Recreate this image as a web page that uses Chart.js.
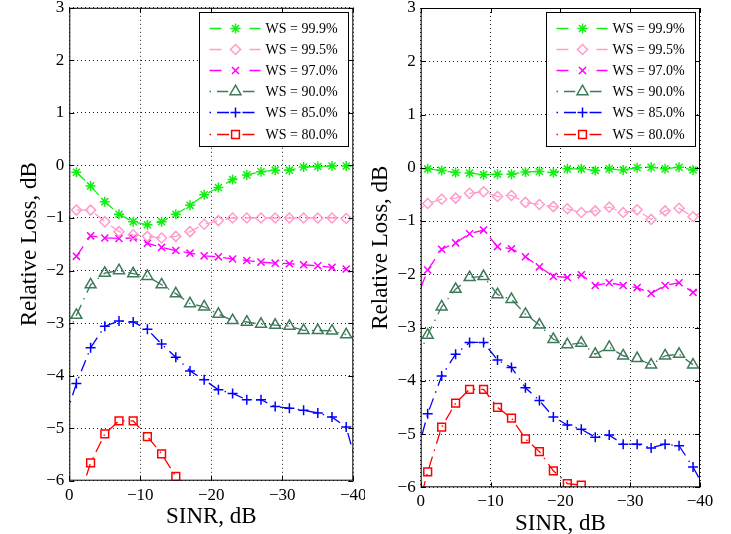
<!DOCTYPE html>
<html>
<head>
<meta charset="utf-8">
<script src="https://cdn.jsdelivr.net/npm/chart.js@4.4.1/dist/chart.umd.min.js"></script>
<style>
  html, body { margin: 0; padding: 0; background: #fff; }
  #wrap { position: relative; width: 731px; height: 534px; overflow: hidden; }
  canvas { position: absolute; top: 0; }
  #left { left: 0; }
  #right { left: 365px; }
</style>
</head>
<body>
<div id="wrap">
  <canvas id="left" width="365" height="534"></canvas>
  <canvas id="right" width="366" height="534"></canvas>
</div>
<script>
"use strict";

// SINR points (dB); the first and last sit just outside the axes and get clipped
const sinr = [1, -1, -3, -5, -7, -9, -11, -13, -15, -17, -19, -21, -23, -25, -27, -29, -31, -33, -35, -37, -39, -41];

const wsLabels = ['WS = 99.9%', 'WS = 99.5%', 'WS = 97.0%', 'WS = 90.0%', 'WS = 85.0%', 'WS = 80.0%'];

const xTicks = [0, -10, -20, -30, -40];
const yTicks = [3, 2, 1, 0, -1, -2, -3, -4, -5, -6];

// left panel, relative loss in dB
const left999 = [null, -0.13, -0.39, -0.69, -0.93, -1.07, -1.13, -1.07, -0.93, -0.76, -0.56, -0.42, -0.27, -0.18, -0.12, -0.09, -0.09, -0.03, -0.02, -0.01, -0.01, null];
const left995 = [null, -0.85, -0.85, -1.07, -1.26, -1.32, -1.35, -1.38, -1.35, -1.26, -1.12, -1.05, -1.0, -1.0, -1.0, -1.0, -1.0, -1.0, -1.0, -1.0, -1.01, null];
const left970 = [null, -1.73, -1.34, -1.38, -1.39, -1.38, -1.48, -1.56, -1.62, -1.67, -1.72, -1.74, -1.78, -1.81, -1.84, -1.86, -1.87, -1.89, -1.91, -1.94, -1.97, null];
const left900 = [-3.43, -2.85, -2.27, -2.05, -2.0, -2.06, -2.11, -2.27, -2.44, -2.63, -2.69, -2.83, -2.95, -2.98, -3.02, -3.04, -3.06, -3.14, -3.14, -3.15, -3.22, null];
const left850 = [-4.97, -4.15, -3.47, -3.06, -2.96, -2.98, -3.12, -3.40, -3.65, -3.91, -4.08, -4.27, -4.34, -4.46, -4.46, -4.59, -4.62, -4.66, -4.71, -4.79, -4.98, -5.96];
const left800 = [null, -6.5, -5.66, -5.11, -4.86, -4.86, -5.16, -5.49, -5.92, null, null, null, null, null, null, null, null, null, null, null, null, null];

// right panel, relative loss in dB
const right999 = [null, -0.02, -0.05, -0.09, -0.10, -0.13, -0.12, -0.12, -0.08, -0.07, -0.09, -0.02, -0.02, -0.05, -0.02, -0.04, 0.0, 0.01, -0.02, 0.01, -0.04, null];
const right995 = [-0.85, -0.67, -0.59, -0.57, -0.48, -0.45, -0.54, -0.52, -0.65, -0.69, -0.73, -0.77, -0.84, -0.81, -0.74, -0.84, -0.79, -0.97, -0.81, -0.76, -0.92, -0.77];
const right970 = [-2.6, -1.92, -1.53, -1.41, -1.24, -1.17, -1.48, -1.52, -1.67, -1.86, -2.04, -2.06, -2.01, -2.21, -2.16, -2.21, -2.25, -2.36, -2.21, -2.16, -2.34, -2.18];
const right900 = [-3.75, -3.14, -2.61, -2.28, -2.06, -2.04, -2.38, -2.47, -2.75, -2.95, -3.22, -3.32, -3.29, -3.50, -3.37, -3.53, -3.58, -3.70, -3.53, -3.50, -3.70, null];
const right850 = [-5.6, -4.62, -3.91, -3.50, -3.28, -3.28, -3.61, -3.75, -4.13, -4.37, -4.68, -4.83, -4.91, -5.06, -5.02, -5.19, -5.19, -5.26, -5.19, -5.22, -5.62, -6.1];
const right800 = [-6.7, -5.71, -4.87, -4.42, -4.16, -4.16, -4.50, -4.70, -5.09, -5.33, -5.69, -5.93, -5.96, null, null, null, null, null, null, null, null, null];

const SERIF = '"Liberation Serif", "Times New Roman", serif';
const DASH = [12, 8];
const DASHDOT = [1.5, 6, 12, 6];

// line look for each WS curve, same order as wsLabels
const looks = [
  { color: '#10f010', marker: 'star',     r: 5,   dash: DASH },
  { color: '#ff9ccc', marker: 'rectRot',  r: 5,   dash: DASH },
  { color: '#ff00ff', marker: 'crossRot', r: 5,   dash: DASH },
  { color: '#3c7a5a', marker: 'triangle', r: 6.3, dash: DASHDOT },
  { color: '#0000ff', marker: 'cross',    r: 5,   dash: DASHDOT },
  { color: '#ff0000', marker: 'rect',     r: 5.5, dash: DASHDOT }
];

function minus(v) {
  return String(v).replace('-', '\u2212');
}

function makeSets(seriesList) {
  return seriesList.map((vals, i) => {
    const lk = looks[i];
    return {
      label: wsLabels[i],
      data: vals.map((v, j) => ({ x: sinr[j], y: v })),
      borderColor: lk.color,
      borderWidth: 1.3,
      borderDash: lk.dash,
      pointStyle: lk.marker,
      pointRadius: lk.r,
      pointBorderColor: lk.color,
      pointBackgroundColor: 'rgba(0,0,0,0)',
      pointBorderWidth: 1.5,
      tension: 0,
      spanGaps: false,
      clip: 0
    };
  });
}

// box around the plot plus inward tick marks on all four sides
const framePlugin = {
  id: 'frame',
  afterDatasetsDraw(chart) {
    const ctx = chart.ctx;
    const a = chart.chartArea;
    const xs = chart.scales.x, ys = chart.scales.y;
    ctx.save();
    ctx.strokeStyle = '#000';
    ctx.lineWidth = 1;
    ctx.setLineDash([]);
    ctx.strokeRect(a.left + 0.5, a.top + 0.5, a.right - a.left - 1, a.bottom - a.top - 1);
    ctx.beginPath();
    xTicks.forEach(v => {
      const px = Math.round(xs.getPixelForValue(v)) + 0.5;
      ctx.moveTo(px, a.bottom); ctx.lineTo(px, a.bottom - 5);
      ctx.moveTo(px, a.top); ctx.lineTo(px, a.top + 5);
    });
    yTicks.forEach(v => {
      const py = Math.round(ys.getPixelForValue(v)) + 0.5;
      ctx.moveTo(a.left, py); ctx.lineTo(a.left + 5, py);
      ctx.moveTo(a.right, py); ctx.lineTo(a.right - 5, py);
    });
    ctx.stroke();
    ctx.restore();
  }
};

// legend box in the upper right corner of the axes
const boxLegend = {
  id: 'boxLegend',
  afterDraw(chart) {
    const ctx = chart.ctx;
    const a = chart.chartArea;
    const w = 149, h = 134;
    const bx = Math.round(a.right - 5 - w) + 0.5;
    const by = Math.round(a.top + 4) + 0.5;
    ctx.save();
    ctx.fillStyle = '#fff';
    ctx.fillRect(bx, by, w, h);
    ctx.strokeStyle = '#000';
    ctx.lineWidth = 1;
    ctx.setLineDash([]);
    ctx.strokeRect(bx, by, w, h);

    ctx.font = '14px ' + SERIF;
    ctx.textBaseline = 'middle';
    ctx.textAlign = 'left';
    chart.data.datasets.forEach((ds, i) => {
      const lk = looks[i];
      const y = Math.round(by + 15 + i * 21.2) + 0.5;
      ctx.strokeStyle = lk.color;
      ctx.lineWidth = 1.4;
      ctx.setLineDash(lk.dash);
      ctx.beginPath();
      ctx.moveTo(bx + 10, y);
      ctx.lineTo(bx + 61, y);
      ctx.stroke();
      ctx.setLineDash([]);
      ctx.fillStyle = '#fff';
      ctx.beginPath();
      ctx.arc(bx + 36, y, lk.r + 1, 0, Math.PI * 2);
      ctx.fill();
      ctx.fillStyle = 'rgba(0,0,0,0)';
      ctx.lineWidth = 1.5;
      Chart.helpers.drawPoint(ctx, { pointStyle: lk.marker, radius: lk.r, rotation: 0, borderWidth: 1.5 }, bx + 36, y);
      ctx.fillStyle = '#000';
      ctx.fillText(ds.label, bx + 66, y + 0.5);
    });
    ctx.restore();
  }
};

function drawPanel(id, seriesList, lay) {
  new Chart(document.getElementById(id), {
    type: 'line',
    data: { datasets: makeSets(seriesList) },
    plugins: [framePlugin, boxLegend],
    options: {
      responsive: false,
      animation: false,
      events: [],
      layout: { padding: { left: 0, right: lay.padRight, top: lay.padTop, bottom: 0 } },
      plugins: { legend: { display: false }, tooltip: { enabled: false } },
      scales: {
        x: {
          type: 'linear',
          min: -40,
          max: 0,
          reverse: true,
          afterBuildTicks: s => { s.ticks = xTicks.map(v => ({ value: v })); },
          afterFit: s => {
            s.height = lay.xHeight;
            s.paddingLeft = 0; s.paddingRight = 0;
          },
          grid: { color: '#222', lineWidth: 1, drawTicks: false },
          border: { display: false, dash: [1, 3] },
          ticks: {
            color: '#000',
            padding: lay.xTickPad,
            maxRotation: 0,
            autoSkip: false,
            font: { family: SERIF, size: 17 },
            callback: v => minus(v)
          },
          title: {
            display: true,
            text: 'SINR, dB',
            color: '#000',
            font: { family: SERIF, size: 23, lineHeight: 1 },
            padding: { top: 0, bottom: lay.xTitlePad }
          }
        },
        y: {
          min: -6,
          max: 3,
          afterBuildTicks: s => { s.ticks = yTicks.map(v => ({ value: v })); },
          afterFit: s => {
            s.width = lay.yWidth;
            s.paddingTop = 0; s.paddingBottom = 0;
          },
          grid: { color: '#222', lineWidth: 1, drawTicks: false },
          border: { display: false, dash: [1, 3] },
          ticks: {
            color: '#000',
            padding: 5,
            autoSkip: false,
            font: { family: SERIF, size: 17 },
            callback: v => minus(v)
          },
          title: {
            display: true,
            text: 'Relative Loss, dB',
            color: '#000',
            font: { family: SERIF, size: 23, lineHeight: 1 },
            padding: { top: lay.yTitlePad, bottom: 0 }
          }
        }
      }
    }
  });
}

drawPanel('left', [left999, left995, left970, left900, left850, left800], {
  padRight: 11.7, padTop: 6.3, yWidth: 69.3, xHeight: 53.3, xTickPad: 5, xTitlePad: 6, yTitlePad: 18
});

drawPanel('right', [right999, right995, right970, right900, right850, right800], {
  padRight: 31, padTop: 8, yWidth: 55.7, xHeight: 46.7, xTickPad: 4, xTitlePad: -1, yTitlePad: 4
});
</script>
</body>
</html>
